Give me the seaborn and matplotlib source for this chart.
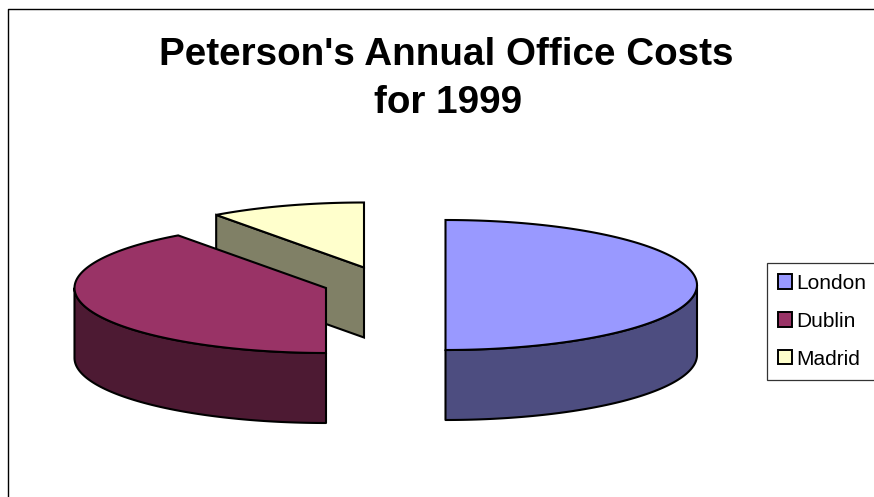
import numpy as np
import matplotlib
matplotlib.use("Agg")
import matplotlib.pyplot as plt
from matplotlib.patches import Patch
import seaborn as sns

# Annual office costs, share of the total per office
offices = ["London", "Dublin", "Madrid"]
shares = [50, 40, 10]
top_colors = ["#9999FF", "#993366", "#FFFFCC"]
side_colors = ["#4D4D80", "#4D1A33", "#808066"]

title_lines = ["Peterson's Annual Office Costs", "for 1999"]

# Pie layout in pixel units of the canvas
W, H = 874, 497
RX, RY, DEPTH = 251.5, 65, 70
centres = {"London": (445.5, 285), "Dublin": (326, 288), "Madrid": (364, 267.5)}
paint_order = ["Madrid", "Dublin", "London"]
EDGE = 1.5

sns.set_theme(style="white")
plt.rcParams["font.family"] = ["Liberation Sans", "DejaVu Sans"]

fig = plt.figure(figsize=(W / 100, H / 100), dpi=100)
ax = fig.add_axes([0, 0, 1, 1])
ax.set_xlim(0, W)
ax.set_ylim(H, 0)
ax.axis("off")


def rim_point(c, angle):
    """Point on the ellipse; angle in degrees, clockwise from the top."""
    a = np.radians(angle)
    return c[0] + RX * np.sin(a), c[1] - RY * np.cos(a)


def draw_slice(c, start, end, top, side):
    # Cut faces that look toward the viewer
    for angle, sign in ((start, -1), (end, 1)):
        if sign * np.sin(np.radians(angle)) > 1e-9:
            x, y = rim_point(c, angle)
            ax.fill([c[0], x, x, c[0]],
                    [c[1], y, y + DEPTH, c[1] + DEPTH],
                    facecolor=side, edgecolor="black", lw=EDGE, joinstyle="miter")

    # Outer wall: the part of the slice on the near half of the ellipse
    lo, hi = max(start, 90), min(end, 270)
    if hi > lo:
        t = np.linspace(lo, hi, 90)
        x, y = rim_point(c, t)
        ax.fill(np.r_[x, x[::-1]], np.r_[y, (y + DEPTH)[::-1]],
                facecolor=side, edgecolor="black", lw=EDGE, joinstyle="round")

    # Top surface
    t = np.linspace(start, end, 180)
    x, y = rim_point(c, t)
    ax.fill(np.r_[c[0], x], np.r_[c[1], y],
            facecolor=top, edgecolor="black", lw=EDGE, joinstyle="miter")


# Walk clockwise from twelve o'clock, then paint back to front
bounds = np.cumsum([0] + shares) * 360 / sum(shares)
slices = {n: (s, e, t, d) for n, s, e, t, d in
          zip(offices, bounds[:-1], bounds[1:], top_colors, side_colors)}
for name in paint_order:
    draw_slice(centres[name], *slices[name])

# Chart area outline, running off the right and bottom of the canvas
ax.plot([7.5, 7.5, W + 5], [H + 5, 9, 9], color="black", lw=1.0, clip_on=False)

ax.text(446, 55, title_lines[0], ha="center", va="center",
        fontsize=27.8, fontweight="bold", color="black")
ax.text(448, 103, title_lines[1], ha="center", va="center",
        fontsize=27.8, fontweight="bold", color="black")

handles = [Patch(facecolor=c, edgecolor="black", lw=1.4, label=n)
           for n, c in zip(offices, top_colors)]
leg = ax.legend(handles=handles, loc="upper left",
                bbox_to_anchor=(767 / W, 1 - 263 / H), bbox_transform=ax.transAxes,
                borderaxespad=0, fontsize=15, frameon=True, fancybox=False,
                framealpha=1, edgecolor="#333333", labelspacing=0.91,
                handlelength=0.66, handleheight=0.66, handletextpad=0.22,
                borderpad=0.52, labelcolor="black")
leg.get_frame().set_linewidth(0.9)

fig.savefig("out.png", dpi=100, facecolor="white")
